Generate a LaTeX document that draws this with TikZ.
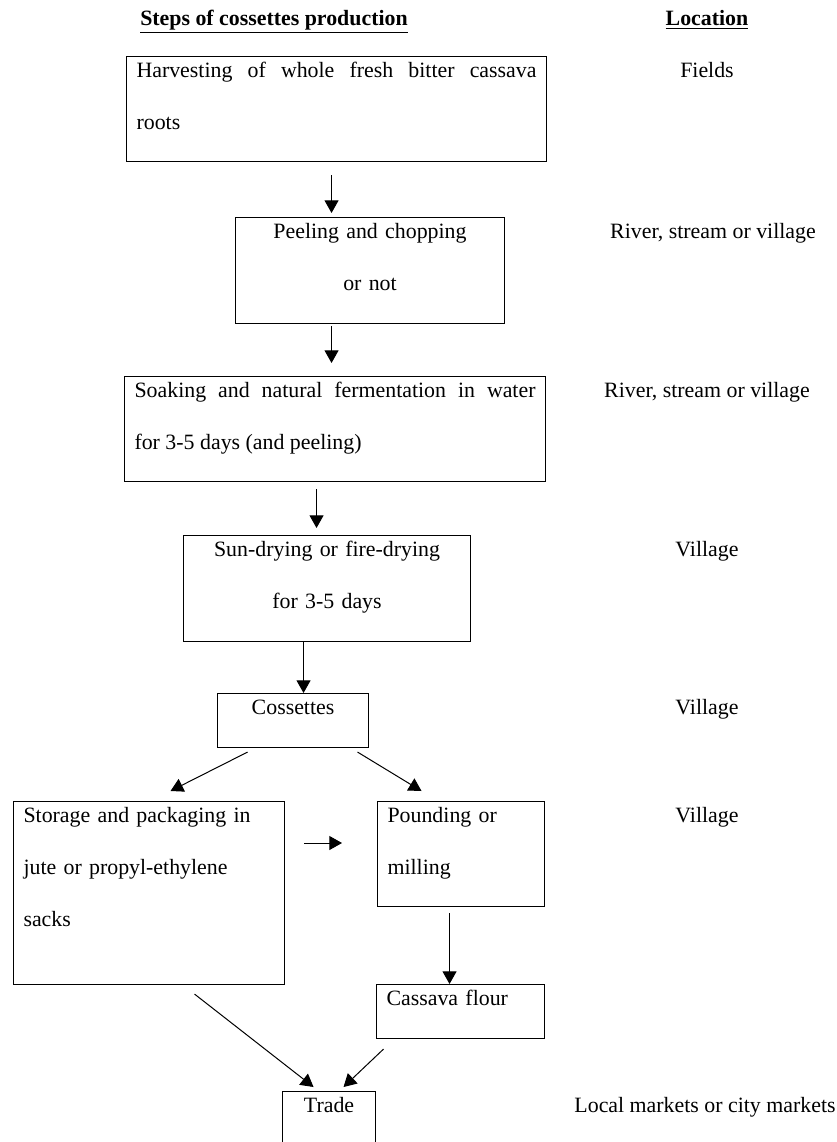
\documentclass[tikz,border=0pt]{standalone}
\usepackage{fontspec}
\setmainfont{Liberation Serif}
\usetikzlibrary{arrows.meta, calc}
\tikzset{
  stepbox/.style 2 args={
    draw, line width=0.8pt, anchor=north west,
    inner xsep=7.5pt, inner ysep=0pt,
    text width=#1, text height=15.5pt, text depth=#2
  },
  flowarrow/.style={-{Triangle[length=9.5pt, width=10.5pt]}, line width=0.75pt},
  sitelabel/.style={anchor=base},
  heading/.style={anchor=base, font=\fontsize{16.4}{39}\selectfont\bfseries},
}

\begin{document}
\begin{tikzpicture}[x=0.75pt, y=-0.75pt, every node/.style={font=\fontsize{16.4}{39}\selectfont}]
  \useasboundingbox (0,0) rectangle (837,1142);

  % Headings
  \node[heading] (stepshead) at (274,26) {\underline{Steps of cossettes production}};
  \coordinate (loccol) at (707,0);
  \node[heading] (lochead) at (loccol |- stepshead.base) {\underline{Location}};

  % Steps
  \node[stepbox={300pt}{63.25pt}, align=justify] (harvest) at (126,56) {Harvesting of whole fresh bitter cassava\linebreak roots};
  \node[stepbox={186.75pt}{64pt}, align=center] (peel) at (235,217) {Peeling and chopping\\or not};
  \node[stepbox={300.75pt}{63.25pt}, align=justify] (soak) at (124,376) {Soaking and natural fermentation in water\linebreak for 3-5 days (and peeling)};
  \node[stepbox={200.25pt}{64pt}, align=center] (sun) at (183,535) {Sun-drying or fire-drying\\for 3-5 days};
  \node[stepbox={98.25pt}{25pt}, align=center] (coss) at (217,693) {Cossettes};
  \node[stepbox={188.25pt}{121.75pt}, align=left] (store) at (13,801) {Storage and packaging in\\jute or propyl-ethylene\\sacks};
  \node[stepbox={110.25pt}{63.25pt}, align=left] (pound) at (377,801) {Pounding or\\milling};
  \node[stepbox={111pt}{25pt}, align=left] (flour) at (376,984) {Cassava flour};
  \node[stepbox={54.75pt}{37pt}, align=center] (trade) at (282,1091) {Trade};

  % Locations
  \node[sitelabel] (fields) at (harvest.base -| loccol) {Fields};
  \node[sitelabel, xshift=4.5pt] (river1) at (peel.base -| loccol) {River, stream or village};
  \node[sitelabel] (river2) at (soak.base -| loccol) {River, stream or village};
  \node[sitelabel] (village1) at (sun.base -| loccol) {Village};
  \node[sitelabel] (village2) at (coss.base -| loccol) {Village};
  \node[sitelabel] (village3) at (pound.base -| loccol) {Village};
  \node[sitelabel, xshift=-1.5pt] (markets) at (trade.base -| loccol) {Local markets or city markets};

  % Flow
  \draw[flowarrow] ($(harvest.south)+(-5,13)$) -- ($(peel.north)+(-38.5,-4)$);
  \draw[flowarrow] ($(peel.south)+(-38.5,2)$) -- ($(soak.north)+(-3.5,-13)$);
  \draw[flowarrow] ($(soak.south)+(-18.5,7)$) -- ($(sun.north)+(-10.5,-7)$);
  \draw[flowarrow] ($(sun.south)+(-23.5,0)$) -- ($(coss.north)+(10.5,0)$);
  \draw[flowarrow] ($(coss.south)+(-45.5,4)$) -- ($(store.north)+(21.5,-10)$);
  \draw[flowarrow] ($(coss.south)+(64.5,4)$) -- ($(pound.north)+(-39.5,-10)$);
  \draw[flowarrow] ($(store.north east)+(19,42)$) -- ($(pound.north west)+(-35,42)$);
  \draw[flowarrow] ($(pound.south)+(-11.5,6)$) -- ($(flour.north)+(-11,0)$);
  \draw[flowarrow] ($(store.south)+(45.5,9)$) -- ($(trade.north)+(-15.5,-4)$);
  \draw[flowarrow] ($(flour.south)+(-77,10)$) -- ($(trade.north)+(14.5,-4)$);
\end{tikzpicture}
\end{document}
